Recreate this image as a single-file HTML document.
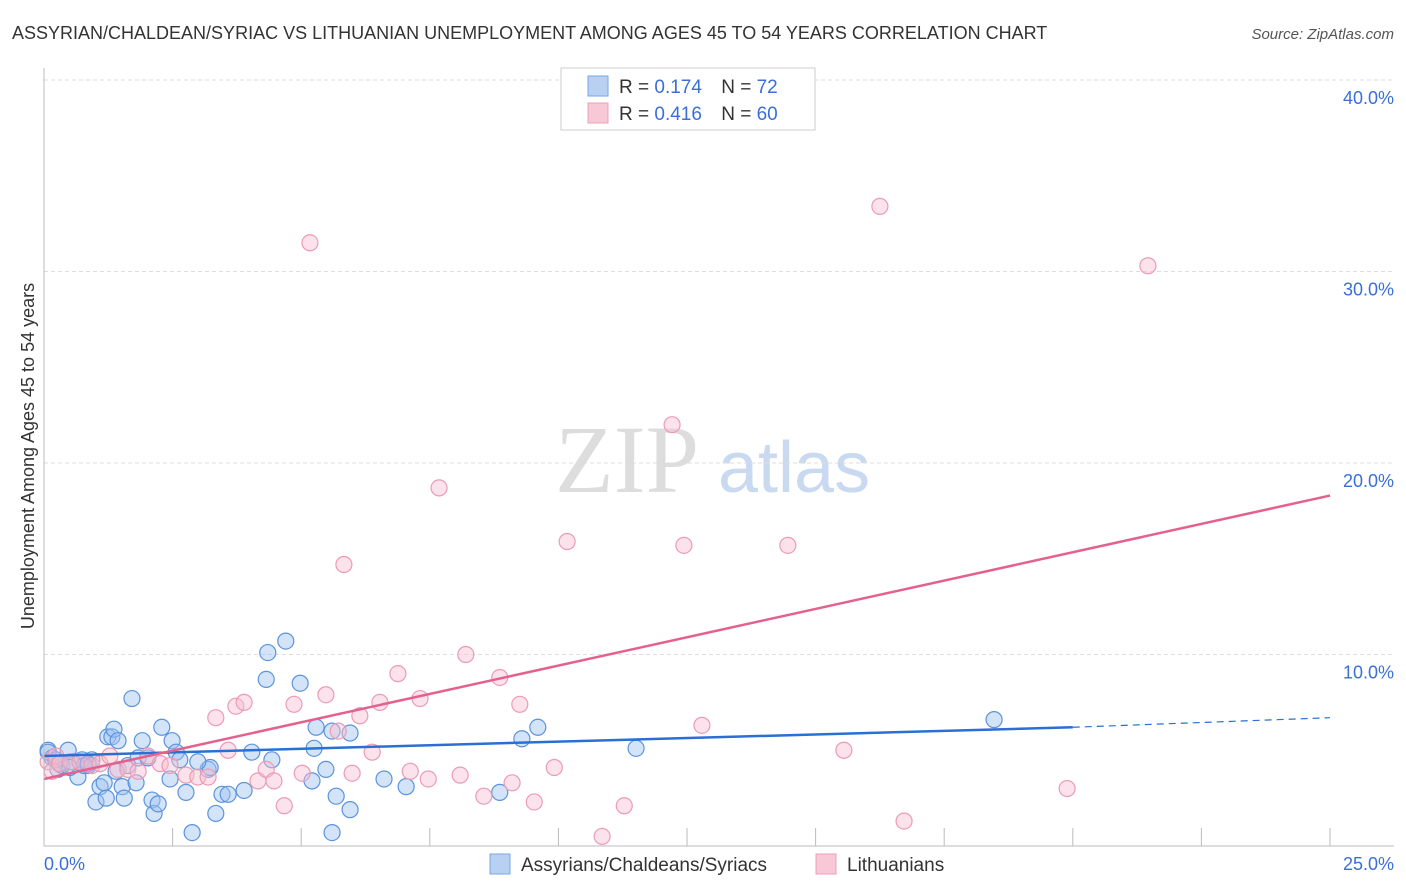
<!DOCTYPE html>
<html><head><meta charset="utf-8"><style>
body{margin:0;background:#fff;font-family:"Liberation Sans",sans-serif;}
#wrap{position:relative;width:1406px;height:892px;overflow:hidden;}
</style></head><body>
<div id="wrap">
<svg id="svg" width="1406" height="892" xmlns="http://www.w3.org/2000/svg">
<text x="12" y="39" font-size="18" fill="#333">ASSYRIAN/CHALDEAN/SYRIAC VS LITHUANIAN UNEMPLOYMENT AMONG AGES 45 TO 54 YEARS CORRELATION CHART</text>
<text x="1394" y="39" font-size="15" fill="#555" font-style="italic" text-anchor="end">Source: ZipAtlas.com</text>
<text x="555" y="492" font-size="96" fill="#ddd" font-family="Liberation Serif,serif">ZIP</text>
<text x="718" y="492" font-size="72" fill="#c9d9f0">atlas</text>
<text transform="translate(34,456) rotate(-90)" font-size="18" fill="#333" text-anchor="middle">Unemployment Among Ages 45 to 54 years</text>
<g id="grid"></g><g id="pts"></g><g id="lines"></g>
<line x1="44" y1="68" x2="44" y2="846" stroke="#bbb"/>
<line x1="44" y1="846" x2="1394" y2="846" stroke="#bbb"/>
<text x="44" y="870" font-size="18" fill="#3a6fd8">0.0%</text>
<text x="1394" y="870" font-size="18" fill="#3a6fd8" text-anchor="end">25.0%</text>
<rect x="561" y="68" width="254" height="62" fill="#fff" stroke="#ccc"/>
<rect x="588" y="76" width="20" height="20" fill="#b8d1f3" stroke="#7aa6e6"/>
<text x="619" y="93" font-size="19" fill="#333">R = <tspan fill="#3a6fd8">0.174</tspan>  <tspan dx="14">N = </tspan><tspan fill="#3a6fd8">72</tspan></text>
<rect x="588" y="103" width="20" height="20" fill="#f8c8d6" stroke="#eba0b8"/>
<text x="619" y="120" font-size="19" fill="#333">R = <tspan fill="#3a6fd8">0.416</tspan>  <tspan dx="14">N = </tspan><tspan fill="#3a6fd8">60</tspan></text>
<rect x="490" y="854" width="20" height="20" fill="#b8d1f3" stroke="#7aa6e6"/>
<text x="521" y="871" font-size="19" fill="#333">Assyrians/Chaldeans/Syriacs</text>
<rect x="816" y="854" width="20" height="20" fill="#f8c8d6" stroke="#eba0b8"/>
<text x="847" y="871" font-size="19" fill="#333">Lithuanians</text>
</svg>
</div>
<script>
const yTicks=[10,20,30,40];
const xTicks=[2.5,5,7.5,10,12.5,15,17.5,20,22.5,25];
const blueX=[0.08,0.16,0.27,0.35,0.47,0.55,0.66,0.74,0.86,0.93,1.01,1.09,1.17,1.21,1.24,1.32,1.36,1.44,1.52,1.56,1.63,1.71,1.79,1.83,1.91,2.02,2.1,2.14,2.22,2.29,2.45,2.49,2.57,2.64,2.76,2.88,3.19,3.23,3.34,3.46,3.58,3.89,4.04,4.35,4.32,4.43,4.7,4.98,5.21,5.25,5.29,5.48,5.6,5.68,5.6,5.95,5.95,6.61,7.04,8.86,9.29,9.6,11.51,18.47,0.08,0.23,0.5,0.78,0.86,1.4,2.99,0.3];
const blueY=[5.0,4.6,4.0,4.2,5.0,4.4,3.6,4.5,4.2,4.5,2.3,3.1,3.3,2.5,5.7,5.7,6.1,5.5,3.1,2.5,4.2,7.7,3.3,4.6,5.5,4.6,2.4,1.7,2.2,6.2,3.5,5.5,4.9,4.5,2.8,0.7,4.0,4.1,1.7,2.7,2.7,2.9,4.9,10.1,8.7,4.5,10.7,8.5,3.4,5.1,6.2,4.0,6.0,2.6,0.7,1.9,5.9,3.5,3.1,2.8,5.6,6.2,5.1,6.6,4.9,4.5,4.1,4.2,4.3,3.9,4.4,4.3];
const pinkX=[0.08,0.16,0.23,0.31,0.51,0.7,0.93,1.09,1.28,1.44,1.63,1.83,2.02,2.26,2.45,2.76,2.99,3.19,3.34,3.58,3.73,3.89,4.16,4.32,4.47,4.67,4.86,5.02,5.17,5.48,5.72,5.83,5.99,6.14,6.38,6.53,6.88,7.12,7.31,7.47,7.68,8.09,8.2,8.55,8.86,9.1,9.25,9.53,9.92,10.17,10.85,11.28,12.21,12.44,12.79,14.46,15.55,16.25,16.72,19.89,21.46];
const pinkY=[4.4,3.9,4.7,4.3,4.4,4.4,4.2,4.3,4.7,4.0,4.0,3.9,4.7,4.3,4.2,3.7,3.6,3.6,6.7,5.0,7.3,7.5,3.4,4.0,3.4,2.1,7.4,3.8,31.5,7.9,6.0,14.7,3.8,6.8,4.9,7.5,9.0,3.9,7.7,3.5,18.7,3.7,10.0,2.6,8.8,3.3,7.4,2.3,4.1,15.9,0.5,2.1,22.0,15.7,6.3,15.7,5.0,33.4,1.3,3.0,30.3];
const blueLine=[4.7,6.2,6.7];const blueLineX=[0,20,25];
const pinkLine=[3.5,18.3];const pinkLineX=[0,25];
const X=v=>44+v*51.44, Y=v=>846-v*19.15;
const NS="http://www.w3.org/2000/svg";
function mk(t,a,p){const e=document.createElementNS(NS,t);for(const k in a)e.setAttribute(k,a[k]);document.getElementById(p).appendChild(e);return e;}
yTicks.forEach(t=>{
 const l=mk('line',{x1:44,x2:1394,y1:Y(t),y2:Y(t),stroke:'#ddd','stroke-dasharray':'4,3'},'grid');
 
 
 const tx=mk('text',{x:1394,y:Y(t)+24,'font-size':18,fill:'#3a6fd8','text-anchor':'end'},'grid');
 tx.textContent=t.toFixed(1)+'%';
 
 
});
xTicks.forEach(t=>{
 const l=mk('line',{x1:X(t),x2:X(t),y1:828,y2:846,stroke:'#bbb'},'grid');
 
 
});
blueX.forEach((v,i)=>{
 const c=mk('circle',{cx:X(v),cy:Y(blueY[i]),r:8,fill:'rgba(160,196,240,0.45)',stroke:'#5b93dd','stroke-width':1.2},'pts');
 
 
});
pinkX.forEach((v,i)=>{
 const c=mk('circle',{cx:X(v),cy:Y(pinkY[i]),r:8,fill:'rgba(248,190,208,0.45)',stroke:'#ec9bb5','stroke-width':1.2},'pts');
 
 
});
const b1=mk('line',{x1:X(blueLineX[0]),y1:Y(blueLine[0]),x2:X(blueLineX[1]),y2:Y(blueLine[1]),stroke:'#2a6fd6','stroke-width':2.5},'lines');


const b2=mk('line',{x1:X(blueLineX[1]),y1:Y(blueLine[1]),x2:X(blueLineX[2]),y2:Y(blueLine[2]),stroke:'#2a6fd6','stroke-width':1.2,'stroke-dasharray':'7,5'},'lines');


const p1=mk('line',{x1:X(pinkLineX[0]),y1:Y(pinkLine[0]),x2:X(pinkLineX[1]),y2:Y(pinkLine[1]),stroke:'#e4618c','stroke-width':2.5},'lines');


</script>
</body></html>
